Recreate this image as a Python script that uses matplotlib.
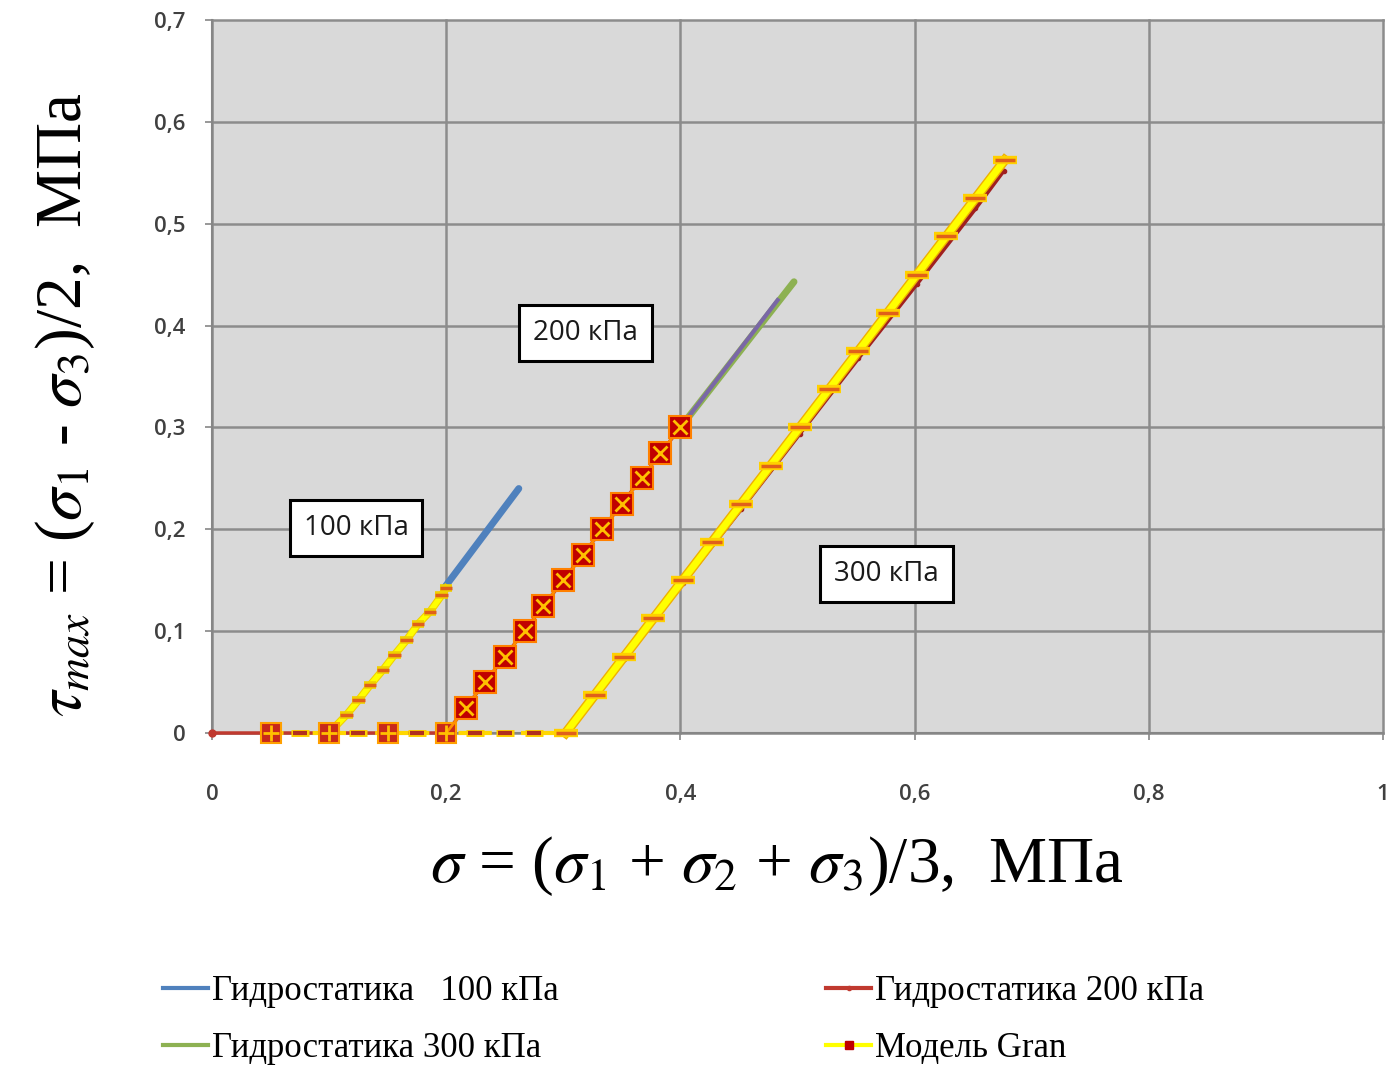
import numpy as np
import matplotlib
matplotlib.use("Agg")
import matplotlib.pyplot as plt
import matplotlib.patheffects as pe
from matplotlib.lines import Line2D
from matplotlib.ticker import FuncFormatter, MultipleLocator

plt.rcParams['mathtext.fontset'] = 'stix'

# hydrostatic paths
hyd100_x = [0.198, 0.262]
hyd100_y = [0.142, 0.240]
hyd200_x = [0.0, 0.05, 0.2, 0.4]
hyd200_y = [0.0, 0.0, 0.0, 0.3]
hyd200_tail_x = [0.4, 0.483]
hyd200_tail_y = [0.3, 0.425]
hyd300_x = [0.4, 0.497]
hyd300_y = [0.3, 0.443]
hyd300b_x = [0.302, 0.352, 0.402, 0.452, 0.502, 0.552, 0.602, 0.652, 0.676]
hyd300b_y = [0.0, 0.073, 0.147, 0.220, 0.294, 0.368, 0.441, 0.515, 0.552]

# model Gran
gran_base_x = [0.05, 0.1, 0.15, 0.2]
gran_base_y = [0.0, 0.0, 0.0, 0.0]
gran_flat_x = [0.075, 0.125, 0.175, 0.225, 0.25, 0.275]
gran_flat_y = [0.0, 0.0, 0.0, 0.0, 0.0, 0.0]
gran100_x = [0.1, 0.115, 0.125, 0.135, 0.146, 0.156, 0.166, 0.176, 0.186, 0.196, 0.2]
gran100_y = [0.0, 0.018, 0.032, 0.047, 0.062, 0.077, 0.091, 0.107, 0.119, 0.135, 0.142]
gran200_x = [0.2, 0.217, 0.233, 0.25, 0.267, 0.283, 0.3, 0.317, 0.333, 0.35, 0.367, 0.383, 0.4]
gran200_y = [0.0, 0.025, 0.05, 0.075, 0.1, 0.125, 0.15, 0.175, 0.2, 0.225, 0.25, 0.275, 0.3]
gran300_x = [0.302, 0.327, 0.352, 0.377, 0.402, 0.427, 0.452, 0.477, 0.502,
             0.527, 0.552, 0.577, 0.602, 0.627, 0.652, 0.677]
gran300_y = [0.0, 0.0375, 0.075, 0.1125, 0.15, 0.1875, 0.225, 0.2625, 0.3,
             0.3375, 0.375, 0.4125, 0.45, 0.4875, 0.525, 0.5625]

labels = ['Гидростатика   100 кПа', 'Гидростатика 200 кПа', 'Гидростатика 300 кПа', 'Модель Gran']
boxes = [('100 кПа', 0.123, 0.201), ('200 кПа', 0.319, 0.393), ('300 кПа', 0.576, 0.156)]

BLUE = '#4f81bd'
RED = '#c0392f'
GREEN = '#8db152'
PURPLE = '#7a67a6'
YEL = '#ffff00'
ORG = '#e0601a'

fig = plt.figure(figsize=(13.93, 10.70), dpi=100)
ax = fig.add_axes([212/1393, 1-733/1070, 1171/1393, 713/1070])
ax.set_facecolor('#d9d9d9')
ax.set_xlim(0, 1)
ax.set_ylim(0, 0.7)
ax.xaxis.set_major_locator(MultipleLocator(0.2))
ax.yaxis.set_major_locator(MultipleLocator(0.1))
fmt = FuncFormatter(lambda v, p: f'{v:g}'.replace('.', ','))
ax.xaxis.set_major_formatter(fmt)
ax.yaxis.set_major_formatter(fmt)
ax.grid(True, color='#8c8c8c', lw=1.8, clip_on=False)
ax.set_axisbelow(True)
for s in ['top', 'right']:
    ax.spines[s].set_visible(False)
for s in ['left', 'bottom']:
    ax.spines[s].set_color('#868686')
    ax.spines[s].set_linewidth(1.5)
ax.tick_params(axis='both', direction='out', length=5, width=1.2, color='#868686',
               labelsize=16, labelcolor='#404040')
ax.tick_params(axis='x', pad=32)
ax.tick_params(axis='y', pad=14)
for t in ax.get_xticklabels() + ax.get_yticklabels():
    t.set_fontfamily('Open Sans')
    t.set_fontweight('semibold')

# hydrostatic lines
ax.plot(hyd300b_x, hyd300b_y, color='#a02020', lw=3, marker='o', ms=3, zorder=3, clip_on=False)
ax.plot(hyd300_x, hyd300_y, color=GREEN, lw=5, solid_capstyle='round', zorder=3)
ax.plot(hyd200_tail_x, hyd200_tail_y, color=PURPLE, lw=3, zorder=4)
ax.plot(hyd200_x, hyd200_y, color=RED, lw=2.5, marker='o', ms=5, zorder=3, clip_on=False)
ax.plot(hyd100_x, hyd100_y, color=BLUE, lw=5, solid_capstyle='round', zorder=3)

# model Gran
stroke = [pe.Stroke(linewidth=7, foreground='#f0b000'), pe.Normal()]
ax.plot([0.05, 0.3], [0, 0], color='#ffd700', lw=3, ls=(0, (3, 2)), zorder=4, clip_on=False)
ax.plot(gran_flat_x, gran_flat_y, ls='none', marker='_', ms=13, mew=5, color='#ffd000',
        zorder=5, clip_on=False)
ax.plot(gran_flat_x, gran_flat_y, ls='none', marker='_', ms=10, mew=3, color='#b03020',
        zorder=6, clip_on=False)
ax.plot(gran_base_x, gran_base_y, ls='none', marker='s', ms=14, mfc='#c8281a', mec='#ffa000',
        mew=1.5, zorder=6, clip_on=False)
ax.plot(gran_base_x, gran_base_y, ls='none', marker='+', ms=11, mew=2, color='#ffc000',
        zorder=7, clip_on=False)

ax.plot(gran100_x, gran100_y, color=YEL, lw=4, zorder=5, marker='_', ms=9, mew=2.5,
        mec=ORG, path_effects=[pe.Stroke(linewidth=5.5, foreground='#f0d000'), pe.Normal()])

ax.plot(gran200_x, gran200_y, color='#ff9000', lw=2, zorder=6)
ax.plot(gran200_x[1:], gran200_y[1:], ls='none', marker='s', ms=16, mfc='#c00000',
        mec='#ff8000', mew=1.5, zorder=7)
ax.plot(gran200_x[1:], gran200_y[1:], ls='none', marker='x', ms=10, mew=2, color='#ffc000', zorder=8)

ax.plot(gran300_x, gran300_y, color=YEL, lw=5, zorder=5, path_effects=stroke, clip_on=False)
ax.plot(gran300_x, gran300_y, ls='none', marker='_', ms=17, mew=6, color='#ffd000', zorder=6,
        clip_on=False)
ax.plot(gran300_x, gran300_y, ls='none', marker='_', ms=15, mew=2.5, color=ORG, zorder=7,
        clip_on=False)

for txt, bx, by in boxes:
    ax.text(bx, by, txt, ha='center', va='center', fontsize=20, family='Open Sans',
            color='#1a1a1a', zorder=10,
            bbox=dict(boxstyle='square,pad=0.5', fc='white', ec='black', lw=2.2))

ax.set_xlabel(r'$\sigma$ = ($\sigma_1$ + $\sigma_2$ + $\sigma_3$)/3,  МПа', fontsize=47,
              family='Liberation Serif', va='top')
ax.xaxis.set_label_coords(0.4825, -0.142)
ax.set_ylabel(r'$\tau_{max}$ = ($\sigma_1$ - $\sigma_3$)/2,  МПа', fontsize=47,
              family='Liberation Serif')
ax.yaxis.set_label_coords(-0.098, 0.46)

handles = [
    Line2D([], [], color=BLUE, lw=3),
    Line2D([], [], color=GREEN, lw=3),
    Line2D([], [], color=RED, lw=3, marker='o', ms=3),
    Line2D([], [], color=YEL, lw=3, marker='s', ms=6, mfc='#c00000', mec='#c00000'),
]
leg_labels = [labels[0], labels[2], labels[1], labels[3]]
fig.legend(handles, leg_labels, ncol=2, loc='upper left', bbox_to_anchor=(132/1393, 1-944/1070),
           frameon=False, prop={'family': 'Liberation Serif', 'size': 25},
           handlelength=1.3, handletextpad=0.1, columnspacing=7.7, labelspacing=0.68)

fig.savefig('out.png', dpi=100)
